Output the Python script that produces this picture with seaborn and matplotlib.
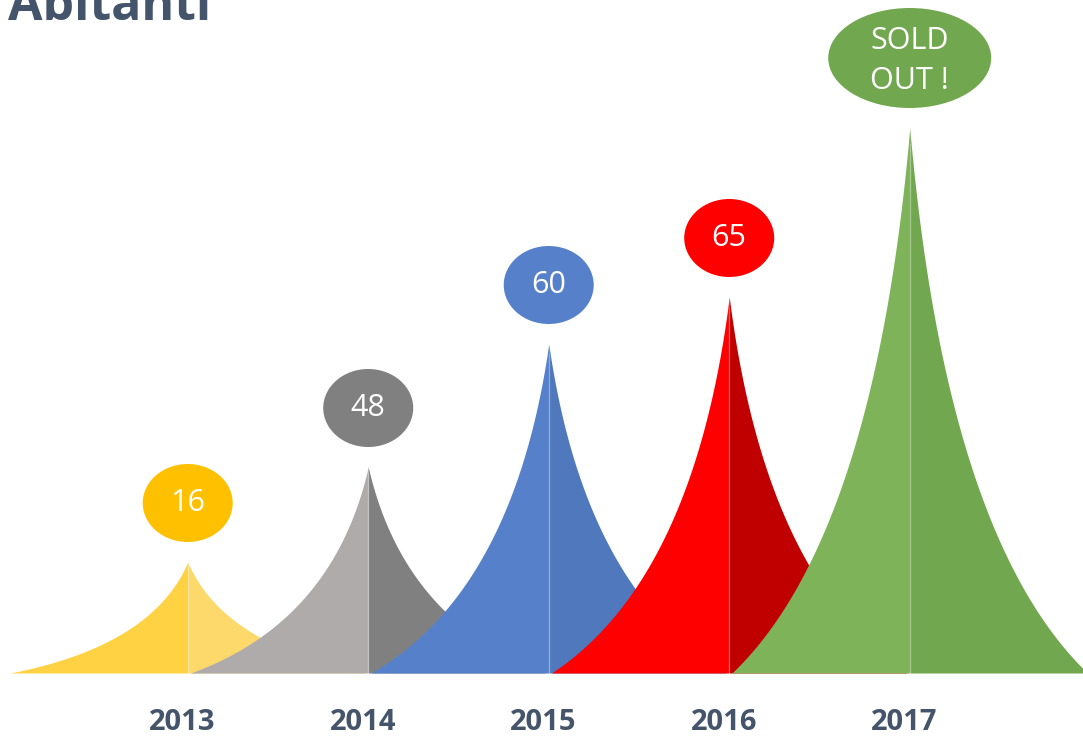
import numpy as np
import matplotlib
matplotlib.use("Agg")
import matplotlib.pyplot as plt
from matplotlib.patches import Ellipse
import seaborn as sns

# data
years = ["2013", "2014", "2015", "2016", "2017"]
peaks = [111, 206, 329, 376, 545]          # spike heights (px-ish units above baseline)
bubbles = ["16", "48", "60", "65", "SOLD\nOUT !"]

left_cols = ["#FFD243", "#AFABAB", "#5681CA", "#FF0000", "#7EB35A"]
right_cols = ["#FDD96B", "#808080", "#4F78BD", "#C00000", "#71A84F"]
bubble_cols = ["#FFC000", "#808080", "#5681CA", "#FF0000", "#71A84F"]

text_col = "#44546A"

sns.set_theme(style="white")
plt.rcParams["font.family"] = ["Open Sans", "DejaVu Sans"]

fig = plt.figure(figsize=(10.83, 7.43), dpi=100)
ax = fig.add_axes([0, 0, 1, 1])
ax.set_xlim(-1.04, 4.96)
ax.set_ylim(-70, 673)
ax.axis("off")

half = 0.985   # half base width of a spike, in category units
px = 180.5     # px per category unit, to keep ellipses round-ish

# side profile: quadratic bezier from base (0,0) to tip (1,1)
s = np.linspace(0, 1, 400)
ca, cb = 0.8, 0.25
prof_x = 2 * s * (1 - s) * ca + s ** 2
prof_y = 2 * s * (1 - s) * cb + s ** 2

for i, (yr, h) in enumerate(zip(years, peaks)):
    # left half rises, right half is the mirror
    ax.fill_between(i - half + half * prof_x, 0, h * prof_y, color=left_cols[i], lw=0)
    ax.fill_between(i + half - half * prof_x, 0, h * prof_y, color=right_cols[i], lw=0)
    ax.plot([i, i], [0, h * 0.97], color="white", alpha=0.25, lw=1)

    big = "\n" in bubbles[i]
    w, hh = (163, 100) if big else (90, 78)
    cy = h + 20 + hh / 2
    ax.add_patch(Ellipse((i, cy), w / px, hh, color=bubble_cols[i], lw=0))
    ax.text(i, cy - (3 if big else 0), bubbles[i], color="white", fontsize=22,
            fontweight="normal", ha="center", va="center", linespacing=1.4)

    ax.text(i - 0.03, -49, yr, color=text_col, fontsize=21, fontweight="bold",
            ha="center", va="center")

fig.text(8 / 1083, 1 - 20 / 743, "Abitanti", color=text_col, fontsize=36,
         fontweight="bold", ha="left", va="baseline")

fig.savefig("out.png", dpi=100)
